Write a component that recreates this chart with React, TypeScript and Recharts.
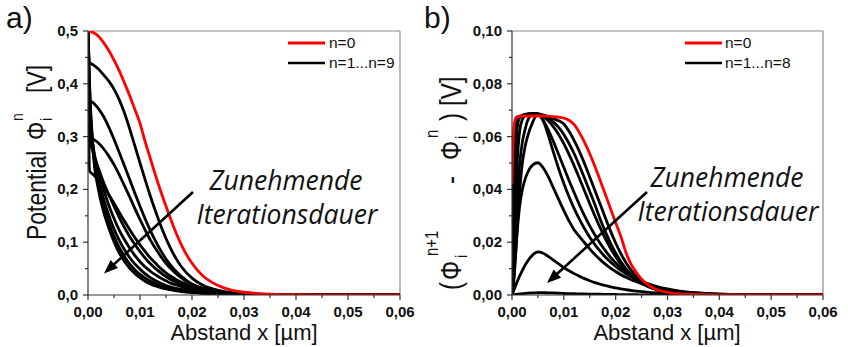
import React from 'react';
import { LineChart, Line, XAxis, YAxis, ReferenceLine } from 'recharts';

// ---------- data: panel a) ----------
const leftX = [0, 0.0003, 0.001, 0.002, 0.003, 0.004, 0.005, 0.006, 0.007, 0.008, 0.009, 0.010, 0.011, 0.012, 0.013, 0.014, 0.015, 0.016, 0.017, 0.018, 0.020, 0.022, 0.024, 0.026, 0.028, 0.030, 0.033, 0.036, 0.040, 0.045, 0.050, 0.060];
const leftN0 = [0.5, 0.4995, 0.497, 0.49, 0.478, 0.463, 0.445, 0.425, 0.402, 0.378, 0.352, 0.325, 0.29, 0.258, 0.226, 0.196, 0.168, 0.141, 0.116, 0.094, 0.06, 0.037, 0.023, 0.014, 0.0085, 0.0052, 0.0025, 0.0013, 0.0006, 0.0002, 0.0001, 0];
const leftN1 = [0.5, 0.44, 0.436, 0.428, 0.417, 0.405, 0.39, 0.37, 0.345, 0.315, 0.283, 0.25, 0.218, 0.187, 0.158, 0.131, 0.107, 0.086, 0.068, 0.053, 0.032, 0.019, 0.0115, 0.007, 0.0043, 0.0028, 0.0015, 0.0008, 0.0004, 0.0002, 0.0001, 0];
const leftN2 = [0.5, 0.37, 0.364, 0.353, 0.338, 0.318, 0.295, 0.27, 0.245, 0.219, 0.193, 0.168, 0.144, 0.122, 0.102, 0.084, 0.068, 0.055, 0.044, 0.035, 0.021, 0.013, 0.008, 0.005, 0.0032, 0.0021, 0.0011, 0.0006, 0.0003, 0.0001, 0, 0];
const leftN3 = [0.5, 0.30, 0.295, 0.288, 0.277, 0.263, 0.247, 0.228, 0.207, 0.186, 0.164, 0.143, 0.123, 0.104, 0.088, 0.073, 0.06, 0.049, 0.04, 0.032, 0.02, 0.012, 0.0075, 0.0047, 0.003, 0.002, 0.001, 0.0005, 0.0002, 0.0001, 0, 0];
const leftN4 = [0.5, 0.235, 0.228, 0.218, 0.205, 0.19, 0.174, 0.157, 0.14, 0.124, 0.109, 0.095, 0.082, 0.07, 0.06, 0.05, 0.042, 0.035, 0.029, 0.024, 0.016, 0.01, 0.0065, 0.004, 0.0027, 0.0018, 0.0009, 0.0004, 0.0002, 0.0001, 0, 0];
const leftN5 = [0.5, 0.30, 0.27, 0.24, 0.213, 0.19, 0.168, 0.147, 0.128, 0.111, 0.096, 0.082, 0.07, 0.059, 0.05, 0.042, 0.035, 0.029, 0.024, 0.02, 0.014, 0.0095, 0.0065, 0.0044, 0.003, 0.002, 0.0011, 0.0006, 0.0002, 0.0001, 0, 0];
const leftN6 = [0.5, 0.34, 0.28, 0.235, 0.2, 0.17, 0.145, 0.123, 0.105, 0.089, 0.075, 0.063, 0.053, 0.045, 0.038, 0.032, 0.027, 0.022, 0.019, 0.016, 0.011, 0.0075, 0.005, 0.0034, 0.0023, 0.0016, 0.0009, 0.0005, 0.0002, 0.0001, 0, 0];
const leftN7 = [0.5, 0.37, 0.28, 0.222, 0.182, 0.151, 0.125, 0.104, 0.086, 0.071, 0.059, 0.049, 0.04, 0.033, 0.027, 0.022, 0.018, 0.015, 0.0125, 0.0105, 0.0072, 0.005, 0.0035, 0.0024, 0.0017, 0.0012, 0.0007, 0.0004, 0.0002, 0.0001, 0, 0];
const leftN8 = [0.5, 0.39, 0.275, 0.21, 0.168, 0.137, 0.111, 0.09, 0.073, 0.059, 0.048, 0.039, 0.032, 0.026, 0.021, 0.017, 0.014, 0.0115, 0.0095, 0.008, 0.0055, 0.0038, 0.0027, 0.0019, 0.0013, 0.0009, 0.0005, 0.0003, 0.0001, 0, 0, 0];
const leftN9 = [0.5, 0.40, 0.27, 0.2, 0.158, 0.127, 0.101, 0.08, 0.064, 0.051, 0.041, 0.033, 0.026, 0.021, 0.017, 0.014, 0.0115, 0.0095, 0.008, 0.0066, 0.0046, 0.0033, 0.0024, 0.0017, 0.0012, 0.0008, 0.0005, 0.0003, 0.0001, 0, 0, 0];

// ---------- data: panel b) ----------
const rightX = [0, 0.0003, 0.0007, 0.001, 0.0015, 0.002, 0.0025, 0.003, 0.004, 0.005, 0.006, 0.007, 0.008, 0.009, 0.010, 0.011, 0.012, 0.013, 0.014, 0.015, 0.016, 0.017, 0.018, 0.019, 0.020, 0.021, 0.022, 0.023, 0.024, 0.025, 0.026, 0.028, 0.030, 0.032, 0.035, 0.038, 0.042, 0.046, 0.050, 0.060];
const rightN0 = [0.042, 0.062, 0.067, 0.0675, 0.0677, 0.0678, 0.0678, 0.0678, 0.0678, 0.0678, 0.0678, 0.0677, 0.0676, 0.0674, 0.0670, 0.0662, 0.0645, 0.0615, 0.0578, 0.0535, 0.0487, 0.0435, 0.0382, 0.0328, 0.0274, 0.0222, 0.016, 0.0115, 0.0085, 0.006, 0.0042, 0.002, 0.001, 0.0005, 0.0002, 0.0001, 0, 0, 0, 0];
const rightN1 = [0, 0.045, 0.065, 0.0672, 0.0678, 0.068, 0.0682, 0.0684, 0.0686, 0.0686, 0.0682, 0.0675, 0.0668, 0.066, 0.0648, 0.062, 0.0585, 0.0544, 0.0497, 0.0447, 0.0396, 0.0345, 0.0293, 0.0243, 0.0197, 0.0157, 0.0122, 0.0093, 0.007, 0.0052, 0.0038, 0.002, 0.0011, 0.0006, 0.0003, 0.0001, 0, 0, 0, 0];
const rightN2 = [0, 0.02, 0.05, 0.0633, 0.0672, 0.068, 0.0684, 0.0686, 0.0687, 0.0686, 0.068, 0.067, 0.0655, 0.0635, 0.0608, 0.0574, 0.0535, 0.049, 0.0442, 0.0392, 0.0342, 0.0288, 0.024, 0.0197, 0.0159, 0.0127, 0.0099, 0.0077, 0.0059, 0.0045, 0.0034, 0.0019, 0.001, 0.0006, 0.0003, 0.0001, 0, 0, 0, 0];
const rightN3 = [0, 0.01, 0.035, 0.05, 0.0625, 0.0665, 0.068, 0.0685, 0.0688, 0.0686, 0.0676, 0.066, 0.0637, 0.0608, 0.0573, 0.0533, 0.0489, 0.0442, 0.0394, 0.0346, 0.0299, 0.0255, 0.0214, 0.0177, 0.0145, 0.0117, 0.0093, 0.0074, 0.0058, 0.0045, 0.0035, 0.002, 0.0012, 0.0007, 0.0003, 0.0001, 0, 0, 0, 0];
const rightN4 = [0, 0.006, 0.022, 0.036, 0.05, 0.058, 0.0625, 0.066, 0.0684, 0.0685, 0.0662, 0.0626, 0.0581, 0.0532, 0.0483, 0.0434, 0.0387, 0.0342, 0.03, 0.0262, 0.0227, 0.0196, 0.0168, 0.0143, 0.0122, 0.0103, 0.0087, 0.0073, 0.0061, 0.0051, 0.0042, 0.0029, 0.002, 0.0013, 0.0007, 0.0004, 0.0002, 0.0001, 0, 0];
const rightN5 = [0, 0.004, 0.015, 0.026, 0.04, 0.05, 0.056, 0.06, 0.0655, 0.0686, 0.066, 0.0605, 0.054, 0.0478, 0.0422, 0.0372, 0.0327, 0.0287, 0.0251, 0.0219, 0.0191, 0.0166, 0.0144, 0.0125, 0.0108, 0.0093, 0.008, 0.0069, 0.0059, 0.0051, 0.0044, 0.0032, 0.0023, 0.0016, 0.0009, 0.0005, 0.0002, 0.0001, 0, 0];
const rightN6 = [0, 0.006, 0.016, 0.024, 0.034, 0.04, 0.0437, 0.0463, 0.0493, 0.0501, 0.0482, 0.0448, 0.0405, 0.0362, 0.032, 0.0281, 0.0246, 0.0222, 0.0198, 0.0175, 0.0153, 0.0134, 0.0117, 0.0102, 0.0089, 0.0077, 0.0067, 0.0058, 0.005, 0.0043, 0.0037, 0.0027, 0.002, 0.0014, 0.0009, 0.0005, 0.0002, 0.0001, 0, 0];
const rightN7 = [0, 0.0015, 0.0035, 0.005, 0.0073, 0.0093, 0.0112, 0.0128, 0.0152, 0.0163, 0.0158, 0.0146, 0.0132, 0.0118, 0.0104, 0.0092, 0.0081, 0.0071, 0.0062, 0.0054, 0.0047, 0.0041, 0.0036, 0.0031, 0.0027, 0.0023, 0.002, 0.0017, 0.0015, 0.0013, 0.0011, 0.0008, 0.0006, 0.0004, 0.0002, 0.0001, 0, 0, 0, 0];
const rightN8 = [0, 0.0001, 0.0002, 0.0003, 0.0004, 0.0005, 0.0006, 0.0007, 0.0008, 0.0009, 0.0009, 0.0008, 0.0008, 0.0007, 0.0006, 0.0005, 0.0005, 0.0004, 0.0004, 0.0003, 0.0003, 0.0003, 0.0002, 0.0002, 0.0002, 0.0001, 0.0001, 0.0001, 0.0001, 0, 0, 0, 0, 0, 0, 0, 0, 0, 0, 0];

// ---------- ticks ----------
const xTickValues = [0, 0.005, 0.01, 0.015, 0.02, 0.025, 0.03, 0.035, 0.04, 0.045, 0.05, 0.055, 0.06];
const leftYTickValues = [0, 0.05, 0.1, 0.15, 0.2, 0.25, 0.3, 0.35, 0.4, 0.45, 0.5];
const rightYTickValues = [0, 0.01, 0.02, 0.03, 0.04, 0.05, 0.06, 0.07, 0.08, 0.09, 0.1];

const leftSeries = [leftN0, leftN1, leftN2, leftN3, leftN4, leftN5, leftN6, leftN7, leftN8, leftN9];
const rightSeries = [rightN0, rightN1, rightN2, rightN3, rightN4, rightN5, rightN6, rightN7, rightN8];

const leftData = leftX.map((x, i) => {
  const row: any = { x };
  leftSeries.forEach((s, k) => { row['n' + k] = s[i]; });
  return row;
});
const rightData = rightX.map((x, i) => {
  const row: any = { x };
  rightSeries.forEach((s, k) => { row['n' + k] = s[i]; });
  return row;
});

const AXIS = '#333';
const FRAME = '#8a8a8a';
const FONT = "'Liberation Sans', Arial, sans-serif";
const LW = 2.8;

const XTick = (props: any) => {
  const { x, y, payload } = props;
  const v = payload.value;
  const major = Math.round(v * 1000) % 10 === 0;
  return (
    <g>
      <line x1={x} y1={y} x2={x} y2={y + (major ? 5 : 3)} stroke={AXIS} strokeWidth={1.2} />
      {major && (
        <text x={x} y={y + 22} textAnchor="middle" fontFamily={FONT} fontWeight="bold" fontSize={15} fill="#111">
          {v.toFixed(2).replace('.', ',')}
        </text>
      )}
    </g>
  );
};

const makeYTick = (majorEvery: number, decimals: number) => (props: any) => {
  const { x, y, payload } = props;
  const v = payload.value;
  const major = Math.round(v * 100) % majorEvery === 0;
  return (
    <g>
      <line x1={x} y1={y} x2={x - (major ? 5 : 3)} y2={y} stroke={AXIS} strokeWidth={1.2} />
      {major && (
        <text x={x - 10} y={y + 5} textAnchor="end" fontFamily={FONT} fontWeight="bold" fontSize={15} fill="#111">
          {v.toFixed(decimals).replace('.', ',')}
        </text>
      )}
    </g>
  );
};
const LeftYTick = makeYTick(10, 1);
const RightYTick = makeYTick(2, 2);

const arrow = (x1: number, y1: number, x2: number, y2: number) => {
  const dx = x2 - x1;
  const dy = y2 - y1;
  const len = Math.sqrt(dx * dx + dy * dy);
  const ux = dx / len;
  const uy = dy / len;
  const hl = 14;
  const hw = 5.5;
  const bx = x2 - ux * hl;
  const by = y2 - uy * hl;
  const nx = -uy * hw;
  const ny = ux * hw;
  return (
    <g>
      <line x1={x1} y1={y1} x2={bx + ux * 2} y2={by + uy * 2} stroke="#000" strokeWidth={2.6} />
      <polygon points={`${x2},${y2} ${bx + nx},${by + ny} ${bx - nx},${by - ny}`} fill="#000" />
    </g>
  );
};

const blackKeysLeft = ['n1', 'n2', 'n3', 'n4', 'n5', 'n6', 'n7', 'n8', 'n9'];
const blackKeysRight = ['n1', 'n2', 'n3', 'n4', 'n5', 'n6', 'n7', 'n8'];

export default function App() {
  const italic = { fontFamily: "'Open Sans', sans-serif", fontStyle: 'italic' as const, fontSize: 26.5, fill: '#111' };
  return (
    <div style={{ position: 'fixed', left: 0, top: 0, width: 848, height: 347, background: '#fff', overflow: 'hidden' }}>
      <div style={{ position: 'absolute', left: 0, top: 0 }}>
        <LineChart width={424} height={347} data={leftData} margin={{ top: 31, right: 24, bottom: 22, left: 28 }}>
          <XAxis dataKey="x" type="number" domain={[0, 0.06]} ticks={xTickValues} interval={0} height={30}
            tickSize={0} tickMargin={0} tickLine={false} tick={XTick} axisLine={{ stroke: AXIS, strokeWidth: 1.2 }} allowDataOverflow />
          <YAxis type="number" domain={[0, 0.5]} ticks={leftYTickValues} interval={0} width={60}
            tickSize={0} tickMargin={0} tickLine={false} tick={LeftYTick} axisLine={{ stroke: AXIS, strokeWidth: 1.2 }} allowDataOverflow />
          <ReferenceLine y={0.5} stroke={FRAME} strokeWidth={1.2} />
          <ReferenceLine x={0.06} stroke={FRAME} strokeWidth={1.2} />
          {blackKeysLeft.map((k) => (
            <Line key={k} type="monotone" dataKey={k} stroke="#000" strokeWidth={LW} dot={false} isAnimationActive={false} />
          ))}
          <Line type="monotone" dataKey="n0" stroke="#ff0000" strokeWidth={LW} dot={false} isAnimationActive={false} />
        </LineChart>
      </div>
      <div style={{ position: 'absolute', left: 424, top: 0 }}>
        <LineChart width={424} height={347} data={rightData} margin={{ top: 31, right: 25, bottom: 22, left: 28 }}>
          <XAxis dataKey="x" type="number" domain={[0, 0.06]} ticks={xTickValues} interval={0} height={30}
            tickSize={0} tickMargin={0} tickLine={false} tick={XTick} axisLine={{ stroke: AXIS, strokeWidth: 1.2 }} allowDataOverflow />
          <YAxis type="number" domain={[0, 0.1]} ticks={rightYTickValues} interval={0} width={60}
            tickSize={0} tickMargin={0} tickLine={false} tick={RightYTick} axisLine={{ stroke: AXIS, strokeWidth: 1.2 }} allowDataOverflow />
          <ReferenceLine y={0.1} stroke={FRAME} strokeWidth={1.2} />
          <ReferenceLine x={0.06} stroke={FRAME} strokeWidth={1.2} />
          {blackKeysRight.map((k) => (
            <Line key={k} type="monotone" dataKey={k} stroke="#000" strokeWidth={LW} dot={false} isAnimationActive={false} />
          ))}
          <Line type="monotone" dataKey="n0" stroke="#ff0000" strokeWidth={LW} dot={false} isAnimationActive={false} />
        </LineChart>
      </div>
      <svg width={848} height={347} style={{ position: 'absolute', left: 0, top: 0, pointerEvents: 'none' }}>
        {/* panel letters */}
        <text x={6} y={28} fontFamily={FONT} fontSize={30} fill="#111">a)</text>
        <text x={424} y={28} fontFamily={FONT} fontSize={30} fill="#111">b)</text>

        {/* x titles */}
        <text x={244} y={340} textAnchor="middle" fontFamily={FONT} fontSize={22} fill="#111">Abstand x [µm]</text>
        <text x={667} y={340} textAnchor="middle" fontFamily={FONT} fontSize={22} fill="#111">Abstand x [µm]</text>

        {/* y titles */}
        <text transform="translate(45.5,240) rotate(-90) scale(1,1.2)" fontFamily={FONT} fontSize={23} fill="#111">
          <tspan x={0} y={0}>Potential</tspan>
          <tspan x={100} y={0}>Φ</tspan>
          <tspan x={119} y={5} fontSize={14}>i</tspan>
          <tspan x={119} y={-19} fontSize={14}>n</tspan>
          <tspan x={147} y={0}>[V]</tspan>
        </text>
        <text transform="translate(461,290) rotate(-90) scale(1,1.2)" fontFamily={FONT} fontSize={24} fill="#111">
          <tspan x={0} y={0}>(</tspan>
          <tspan x={10} y={0}>Φ</tspan>
          <tspan x={32} y={5} fontSize={14}>i</tspan>
          <tspan x={34} y={-19} fontSize={15}>n+1</tspan>
          <tspan x={106} y={0}>-</tspan>
          <tspan x={130} y={0}>Φ</tspan>
          <tspan x={151} y={5} fontSize={14}>i</tspan>
          <tspan x={152} y={-19} fontSize={15}>n</tspan>
          <tspan x={169} y={0}>)</tspan>
          <tspan x={184} y={0}>[V]</tspan>
        </text>

        {/* legends */}
        <line x1={288} y1={43} x2={325} y2={43} stroke="#ff0000" strokeWidth={3} />
        <text x={329} y={48} fontFamily={FONT} fontSize={15.5} fill="#111">n=0</text>
        <line x1={288} y1={63} x2={325} y2={63} stroke="#000" strokeWidth={2.6} />
        <text x={329} y={68} fontFamily={FONT} fontSize={15.5} fill="#111">n=1...n=9</text>

        <line x1={685} y1={43} x2={722} y2={43} stroke="#ff0000" strokeWidth={3} />
        <text x={725} y={48} fontFamily={FONT} fontSize={15.5} fill="#111">n=0</text>
        <line x1={685} y1={63} x2={722} y2={63} stroke="#000" strokeWidth={2.6} />
        <text x={725} y={68} fontFamily={FONT} fontSize={15.5} fill="#111">n=1...n=8</text>

        {/* annotations */}
        <text x={286} y={190} textAnchor="middle" {...italic}>Zunehmende</text>
        <text x={287} y={224} textAnchor="middle" {...italic}>Iterationsdauer</text>
        {arrow(193, 192, 104, 273.5)}

        <text x={727} y={187} textAnchor="middle" {...italic}>Zunehmende</text>
        <text x={728} y={221} textAnchor="middle" {...italic}>Iterationsdauer</text>
        {arrow(647, 192, 547, 283)}
      </svg>
    </div>
  );
}
